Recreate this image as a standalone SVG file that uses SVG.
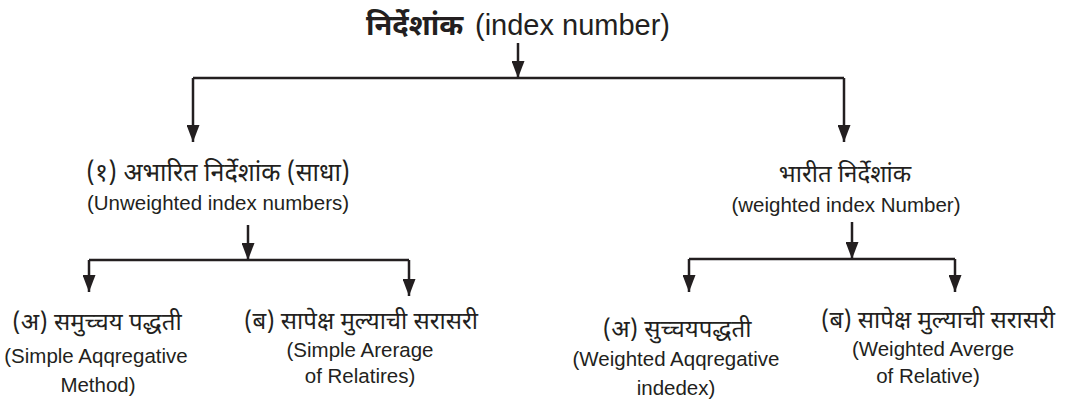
<svg xmlns="http://www.w3.org/2000/svg" width="1090" height="400" viewBox="0 0 1090 400">
<defs>
<marker id="ah" viewBox="0 0 17 13" refX="17" refY="6.5" markerWidth="17" markerHeight="13" markerUnits="userSpaceOnUse" orient="auto">
<path d="M0,0 L17,6.5 L0,13 Z" fill="#231f20"/>
</marker>
<style>
.ln{fill:none;stroke:#231f20;stroke-width:2.5}
.ar{fill:none;stroke:#231f20;stroke-width:2.5;marker-end:url(#ah)}
.dv{font-family:"Noto Sans Devanagari","Lohit Devanagari","Noto Serif Devanagari",sans-serif;fill:#231f20;text-anchor:middle}
.en{font-family:"Liberation Sans",Arial,sans-serif;fill:#231f20;text-anchor:middle;font-size:20.5px}
.st{text-anchor:start}
</style>
</defs>
<rect width="1090" height="400" fill="#fff"/>
<g id="connectors">
<path class="ar" d="M518,43 V78"/>
<path class="ln" d="M193,78 H844"/>
<path class="ar" d="M193,78 V142"/>
<path class="ar" d="M844,78 V142"/>
<path class="ar" d="M248,225 V260"/>
<path class="ln" d="M89,260 H409"/>
<path class="ar" d="M89,260 V292"/>
<path class="ar" d="M409,260 V296"/>
<path class="ar" d="M852,222 V259"/>
<path class="ln" d="M689,259 H955"/>
<path class="ar" d="M689,259 V292"/>
<path class="ar" d="M955,259 V292"/>
</g>
<g id="root">
<text class="dv st" x="366" y="35" font-size="29" font-weight="bold">निर्देशांक</text>
<text class="en st" x="475" y="35" style="font-size:29px">(index number)</text>
</g>
<g id="unweighted">
<text class="dv" x="218" y="181" font-size="25">(१) अभारित निर्देशांक (साधा)</text>
<text class="en" x="218" y="210">(Unweighted index numbers)</text>
</g>
<g id="weighted">
<text class="dv" x="845" y="182" font-size="24">भारीत निर्देशांक</text>
<text class="en" x="846" y="212">(weighted index Number)</text>
</g>
<g id="simple-aggregative">
<text class="dv" x="97" y="330" font-size="24">(अ) समुच्चय पद्धती</text>
<text class="en" x="96" y="363">(Simple Aqqregative</text>
<text class="en" x="98" y="392">Method)</text>
</g>
<g id="simple-relatives">
<text class="dv" x="361" y="329" font-size="24">(ब) सापेक्ष मुल्याची सरासरी</text>
<text class="en" x="360" y="357">(Simple Arerage</text>
<text class="en" x="360" y="383">of Relatires)</text>
</g>
<g id="weighted-aggregative">
<text class="dv" x="677" y="337" font-size="24">(अ) सुच्चयपद्धती</text>
<text class="en" x="676" y="366">(Weighted Aqqregative</text>
<text class="en" x="676" y="395">indedex)</text>
</g>
<g id="weighted-relatives">
<text class="dv" x="938" y="328" font-size="24">(ब) सापेक्ष मुल्याची सरासरी</text>
<text class="en" x="933" y="356">(Weighted Averge</text>
<text class="en" x="928" y="383">of Relative)</text>
</g>
</svg>
